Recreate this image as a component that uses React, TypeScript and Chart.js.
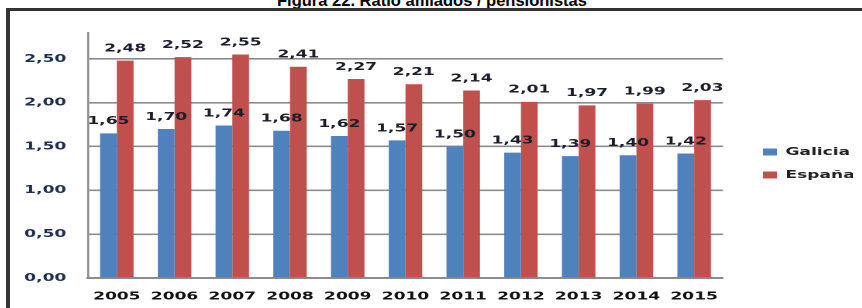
import React, { useEffect, useRef } from 'react';
import { Chart, registerables } from 'chart.js';

Chart.register(...registerables);

// ---- data ----
const years = ['2005', '2006', '2007', '2008', '2009', '2010', '2011', '2012', '2013', '2014', '2015'];
const galicia = [1.65, 1.7, 1.74, 1.68, 1.62, 1.57, 1.5, 1.43, 1.39, 1.4, 1.42];
const espana = [2.48, 2.52, 2.55, 2.41, 2.27, 2.21, 2.14, 2.01, 1.97, 1.99, 2.03];
const seriesNames = ['Galicia', 'España'];
const titleText = 'Figura 22. Ratio afiliados / pensionistas';
const Y_MIN = 0;
const Y_MAX = 2.8;
const Y_STEP = 0.5;
const Y_LAST_TICK = 2.5;

const fmt = (v: number) => Number(v).toFixed(2).replace('.', ',');

// ---- geometry (canvas is drawn narrow and stretched horizontally) ----
const S = 1.55;
const CW = 548;
const CH = 296;
const LEGEND_X = 484.5;
const LEGEND_Y = 134.5;
const FONT = '"DejaVu Sans", Verdana, sans-serif';

const valueLabels = {
  id: 'valueLabels',
  afterDatasetsDraw(chart: any) {
    const { ctx } = chart;
    ctx.save();
    ctx.font = `bold 11px ${FONT}`;
    ctx.fillStyle = '#1b1e2a';
    ctx.textAlign = 'center';
    ctx.textBaseline = 'middle';
    chart.data.datasets.forEach((ds: any, i: number) => {
      const meta = chart.getDatasetMeta(i);
      meta.data.forEach((el: any, j: number) => {
        ctx.fillText(fmt(ds.data[j]), el.x, el.y - 12);
      });
    });
    ctx.restore();
  },
};

const legendPlace = {
  id: 'legendPlace',
  afterLayout(chart: any) {
    const lg = chart.legend;
    if (!lg) return;
    const pad = lg.options.labels.padding;
    const dx = LEGEND_X - (lg.left + pad);
    lg.left += dx;
    lg.right += dx;
    const colH = lg.columnSizes && lg.columnSizes[0] ? lg.columnSizes[0].height : 0;
    const curY = (lg.top + pad + lg.bottom - colH) / 2;
    const dy = LEGEND_Y - curY;
    lg.top += dy;
    lg.bottom += dy;
  },
};

export default function App() {
  const ref = useRef<HTMLCanvasElement | null>(null);

  useEffect(() => {
    if (!ref.current) return;
    const tickFont = { family: FONT, size: 11, weight: 'bold' as const };
    const chart = new Chart(ref.current, {
      type: 'bar',
      data: {
        labels: years,
        datasets: [
          { label: seriesNames[0], data: galicia, backgroundColor: '#4F81BD', borderWidth: 0 },
          { label: seriesNames[1], data: espana, backgroundColor: '#C0504D', borderWidth: 0 },
        ],
      },
      options: {
        responsive: false,
        animation: false,
        devicePixelRatio: 2,
        layout: { padding: { left: 0, top: 13, right: 19.3, bottom: 0 } },
        datasets: { bar: { categoryPercentage: 0.58, barPercentage: 1 } },
        scales: {
          x: {
            grid: { display: false, drawTicks: false },
            border: { display: true, color: '#8c8c8c', width: 2 },
            ticks: { font: tickFont, color: '#111111', padding: 12, maxRotation: 0, autoSkip: false },
            afterFit: (s: any) => {
              s.height = 30;
            },
          },
          y: {
            min: Y_MIN,
            max: Y_MAX,
            ticks: {
              stepSize: Y_STEP,
              callback: (v: any) => fmt(v),
              font: tickFont,
              color: '#1f2f4f',
              padding: 14,
            },
            grid: { color: '#8c8c8c', lineWidth: 1.6, drawTicks: false },
            border: { color: '#8c8c8c', width: 1.3 },
            afterFit: (s: any) => {
              s.width = 49;
            },
            afterBuildTicks: (s: any) => {
              s.ticks = s.ticks.filter((t: any) => t.value <= Y_LAST_TICK + 1e-9);
            },
          },
        },
        plugins: {
          legend: {
            position: 'right',
            maxWidth: 70,
            labels: {
              boxWidth: 9,
              boxHeight: 7,
              padding: 12,
              font: tickFont,
              color: '#222222',
            },
          },
          tooltip: { enabled: false },
          title: { display: false },
        },
      } as any,
      plugins: [valueLabels, legendPlace],
    });
    return () => chart.destroy();
  }, []);

  return (
    <div
      style={{
        position: 'absolute',
        left: 0,
        top: 0,
        width: 862,
        height: 308,
        overflow: 'hidden',
        background: '#ffffff',
      }}
    >
      <div
        style={{
          position: 'absolute',
          left: 0,
          top: -10,
          width: 864,
          textAlign: 'center',
          fontFamily: '"Liberation Sans", Arial, sans-serif',
          fontWeight: 'bold',
          fontSize: 16.5,
          lineHeight: '20px',
          color: '#000',
          whiteSpace: 'nowrap',
        }}
      >
        {titleText}
      </div>
      <div
        style={{
          position: 'absolute',
          left: 6,
          top: 8,
          width: 900,
          height: 400,
          borderTop: '3px solid #333333',
          borderLeft: '4px solid #333333',
          boxSizing: 'border-box',
        }}
      />
      <div
        style={{
          position: 'absolute',
          left: 12,
          top: 12,
          width: CW,
          height: CH,
          transform: `scaleX(${S})`,
          transformOrigin: '0 0',
        }}
      >
        <canvas ref={ref} width={CW} height={CH} style={{ display: 'block' }} />
      </div>
    </div>
  );
}
